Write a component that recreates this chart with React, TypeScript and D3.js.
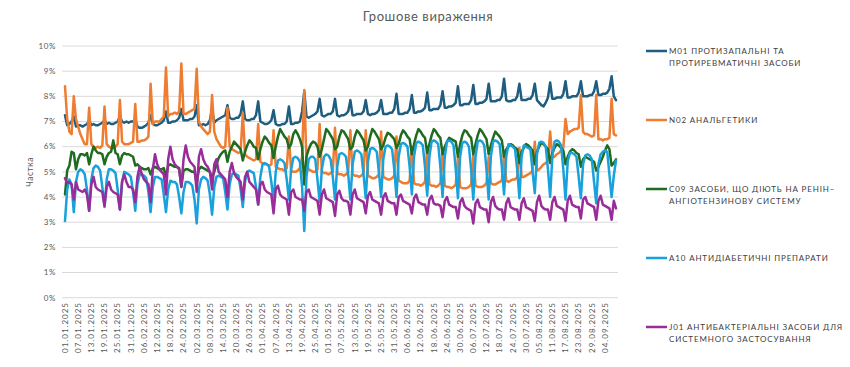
import React from 'react'
import * as d3 from 'd3'

// daily shares, %, 01.01.2025 - 09.09.2025 (weeks Mon..Sun)
const m01 = [
  7.25, 6.85, 6.9, 7.0, 7.2,
  6.8, 6.85, 6.85, 6.8, 6.85, 6.9, 7.05,
  6.85, 6.9, 6.85, 6.85, 6.9, 6.95, 7.05,
  6.9, 6.95, 6.9, 6.9, 6.95, 7.0, 7.2,
  7.0, 6.95, 7.0, 6.95, 7.0, 7.0, 7.1,
  6.8, 6.75, 6.75, 6.8, 6.85, 6.95, 7.25,
  6.9, 6.85, 6.85, 6.9, 6.95, 7.05, 7.4,
  6.95, 6.95, 7.0, 7.0, 7.05, 7.15, 7.5,
  7.05, 7.05, 7.05, 7.1, 7.1, 7.2, 7.65,
  6.85, 6.85, 6.9, 6.85, 6.9, 7.05, 7.5,
  6.95, 7.05, 7.1, 7.15, 7.2, 7.25, 7.65,
  7.15, 7.1, 7.1, 7.15, 7.15, 7.3, 7.8,
  7.1, 7.05, 7.05, 7.1, 7.1, 7.25, 7.8,
  7.0, 6.95, 6.9, 6.9, 6.95, 7.05, 7.45,
  6.9, 6.85, 6.85, 6.9, 6.9, 7.0, 7.6,
  6.9, 6.9, 6.95, 6.95, 7.0, 7.4, 8.2,
  7.2, 7.15, 7.2, 7.25, 7.3, 7.4, 7.9,
  7.25, 7.2, 7.25, 7.3, 7.3, 7.4, 7.9,
  7.25, 7.2, 7.25, 7.25, 7.3, 7.4, 7.85,
  7.25, 7.25, 7.3, 7.3, 7.3, 7.4, 7.85,
  7.3, 7.25, 7.3, 7.3, 7.35, 7.45, 7.85,
  7.3, 7.3, 7.3, 7.35, 7.35, 7.5, 8.1,
  7.3, 7.3, 7.3, 7.35, 7.35, 7.5, 8.05,
  7.35, 7.35, 7.4, 7.4, 7.45, 7.55, 8.15,
  7.45, 7.45, 7.5, 7.5, 7.5, 7.65, 8.2,
  7.55, 7.55, 7.6, 7.6, 7.65, 7.75, 8.4,
  7.65, 7.65, 7.7, 7.7, 7.7, 7.85, 8.45,
  7.7, 7.7, 7.75, 7.75, 7.8, 7.9, 8.5,
  7.8, 7.8, 7.8, 7.85, 7.85, 8.0, 8.7,
  7.85, 7.8, 7.8, 7.85, 7.85, 8.0, 8.5,
  7.85, 7.85, 7.85, 7.9, 7.9, 8.05, 8.5,
  7.85, 7.75, 7.65, 7.6, 7.75, 7.95, 8.55,
  7.9, 7.9, 7.95, 7.95, 7.95, 8.1, 8.6,
  7.95, 7.95, 8.0, 8.0, 8.0, 8.15, 8.6,
  8.0, 8.0, 8.0, 8.05, 8.05, 8.2, 8.6,
  8.05, 8.05, 8.1, 8.1, 8.15, 8.3, 8.8,
  8.0, 7.85,
]

const n02 = [
  8.4, 7.1, 6.6, 6.5, 8.0,
  7.1, 6.8, 6.5, 6.3, 6.1, 6.1, 7.55,
  6.1, 6.0, 5.95, 6.0, 5.95, 6.05, 7.6,
  6.1, 6.0, 5.95, 5.95, 6.0, 6.1, 7.85,
  6.2, 6.1, 6.1, 6.1, 6.15, 6.2, 7.7,
  6.2, 6.2, 6.25, 6.25, 6.3, 6.4, 8.5,
  6.9, 7.0, 7.0, 7.0, 7.1, 7.2, 9.15,
  7.2, 7.3, 7.3, 7.35, 7.3, 7.4, 9.3,
  7.3, 7.3, 7.35, 7.4, 7.45, 7.5, 9.1,
  7.0, 6.8, 6.7, 6.6, 6.5, 6.6, 8.05,
  6.6, 6.3, 6.15, 6.0, 5.95, 6.0, 7.55,
  6.0, 5.9, 5.85, 5.8, 5.75, 5.8, 7.35,
  5.7, 5.6, 5.55, 5.5, 5.45, 5.5, 6.9,
  5.4, 5.35, 5.3, 5.3, 5.25, 5.3, 6.65,
  5.2, 5.15, 5.1, 5.1, 5.05, 5.15, 6.4,
  5.05, 5.0, 5.0, 5.05, 5.15, 5.6, 8.25,
  5.4, 5.1, 5.05, 5.0, 5.0, 5.1, 6.9,
  5.0, 4.95, 4.95, 4.9, 4.95, 5.0, 6.75,
  4.95, 4.9, 4.9, 4.85, 4.9, 5.0, 6.65,
  4.9, 4.85, 4.85, 4.8, 4.85, 4.95, 6.65,
  4.85, 4.8, 4.75, 4.75, 4.8, 4.9, 6.6,
  4.8, 4.75, 4.7, 4.7, 4.75, 4.85, 6.4,
  4.65, 4.6, 4.55, 4.55, 4.55, 4.65, 6.0,
  4.55, 4.5, 4.5, 4.45, 4.5, 4.6, 6.0,
  4.5, 4.45, 4.45, 4.4, 4.45, 4.55, 5.95,
  4.45, 4.4, 4.4, 4.35, 4.4, 4.5, 5.6,
  4.4, 4.35, 4.35, 4.35, 4.4, 4.5, 5.7,
  4.45, 4.4, 4.4, 4.4, 4.45, 4.55, 5.6,
  4.55, 4.5, 4.5, 4.55, 4.6, 4.65, 5.75,
  4.65, 4.6, 4.65, 4.7, 4.7, 4.8, 5.95,
  4.8, 4.8, 4.85, 4.9, 4.95, 5.05, 6.2,
  5.05, 5.1, 5.2, 5.3, 5.35, 5.45, 6.6,
  5.55, 5.6, 5.7, 5.75, 5.85, 5.95, 7.1,
  6.5, 6.6, 6.65, 6.7, 6.7, 6.75, 8.05,
  6.6, 6.5, 6.5, 6.45, 6.4, 6.45, 8.05,
  6.3, 6.3, 6.25, 6.3, 6.3, 6.35, 7.9,
  6.5, 6.45,
]

const c09 = [
  4.1, 5.05, 5.25, 5.8, 5.75,
  5.1, 5.5, 5.7, 5.7, 5.65, 5.75, 5.3,
  5.7, 6.0, 5.85, 5.75, 5.75, 5.7, 5.3,
  5.6, 5.75, 5.8, 6.25, 5.75, 5.7, 5.3,
  5.65, 5.75, 5.7, 5.7, 5.65, 5.6, 5.25,
  5.3, 5.2, 5.15, 5.1, 5.1, 5.15, 4.9,
  5.15, 5.2, 5.15, 5.1, 5.1, 5.15, 4.8,
  5.25, 5.3, 5.25, 5.2, 5.2, 5.15, 4.4,
  5.05, 5.1, 5.1, 5.05, 5.0, 5.0, 4.55,
  5.1, 5.2, 5.15, 5.1, 5.05, 5.0, 4.75,
  5.0, 5.3, 5.55, 5.7, 5.8, 5.85, 5.4,
  5.8, 6.0, 6.2, 6.1, 6.0, 5.9, 5.45,
  5.8, 6.05, 6.25, 6.15, 6.0, 5.95, 5.5,
  5.9, 6.2, 6.4, 6.3, 6.15, 6.05, 5.55,
  6.0, 6.4, 6.7, 6.55, 6.4, 6.3, 5.95,
  6.1, 6.5, 6.65, 6.5, 6.3, 6.0, 4.5,
  5.6, 5.9, 6.1, 6.2, 6.15, 6.0, 5.6,
  5.9, 6.3, 6.7, 6.6, 6.45, 6.3, 5.9,
  6.0, 6.4, 6.65, 6.6, 6.45, 6.3, 5.9,
  6.0, 6.4, 6.65, 6.55, 6.4, 6.25, 5.85,
  6.0, 6.4, 6.7, 6.6, 6.45, 6.3, 5.9,
  6.05, 6.35, 6.55, 6.5, 6.4, 6.3, 5.95,
  6.1, 6.45, 6.65, 6.55, 6.4, 6.3, 5.7,
  6.1, 6.45, 6.7, 6.6, 6.45, 6.35, 5.75,
  6.1, 6.45, 6.7, 6.6, 6.45, 6.35, 5.7,
  6.0, 6.2, 6.35, 6.3, 6.25, 6.2, 5.6,
  6.1, 6.45, 6.65, 6.6, 6.45, 6.35, 5.7,
  6.1, 6.45, 6.7, 6.6, 6.45, 6.3, 5.7,
  6.05, 6.35, 6.6, 6.5, 6.4, 6.25, 5.6,
  5.9, 6.0, 6.1, 6.05, 5.95, 5.9, 5.35,
  5.8, 5.95, 6.1, 6.05, 5.95, 5.85, 5.3,
  5.8, 6.0, 6.15, 6.1, 6.0, 5.9, 5.35,
  5.75, 5.95, 6.1, 6.05, 5.95, 5.85, 5.3,
  5.6, 5.8, 5.9, 5.85, 5.75, 5.7, 5.2,
  5.5, 5.6, 5.55, 5.5, 5.45, 5.4, 5.05,
  5.2, 5.4, 5.6, 5.85, 6.05, 5.9, 5.25,
  5.35, 5.5,
]

const a10 = [
  3.05, 4.3, 4.7, 4.5, 3.4,
  4.6, 5.0, 5.1, 5.05, 4.9, 4.3, 3.45,
  4.7, 5.15, 5.25, 5.2, 5.05, 4.4, 3.6,
  4.7, 5.1, 5.1, 5.05, 4.95, 4.3, 3.5,
  4.6, 5.0, 4.95, 4.9, 4.8, 4.2, 3.45,
  4.5, 4.9, 4.9, 4.85, 4.75, 4.2, 3.4,
  4.4, 4.8, 4.8, 4.75, 4.7, 4.1, 3.4,
  4.3, 4.65, 4.6, 4.6, 4.5, 4.0, 3.35,
  4.2, 4.6, 4.6, 4.55, 4.45, 3.9, 2.95,
  4.3, 4.7, 4.8, 4.75, 4.65, 4.1, 3.3,
  4.4, 4.8, 4.85, 4.8, 4.75, 4.2, 3.5,
  4.5, 4.9, 4.95, 4.9, 4.85, 4.3, 3.6,
  4.6, 5.0, 5.05, 5.0, 4.95, 4.4, 3.7,
  4.8, 5.3, 5.35, 5.3, 5.2, 4.6, 3.8,
  5.0, 5.45, 5.5, 5.45, 5.35, 4.7, 3.9,
  5.1, 5.55, 5.6, 5.55, 5.4, 4.4, 2.65,
  4.8, 5.5, 5.6, 5.6, 5.5, 4.7, 3.8,
  5.1, 5.6, 5.7, 5.65, 5.5, 4.8, 3.9,
  5.2, 5.7, 5.75, 5.7, 5.6, 4.9, 3.9,
  5.3, 5.8, 5.85, 5.8, 5.7, 4.9, 3.95,
  5.4, 5.9, 5.95, 5.9, 5.8, 5.0, 4.0,
  5.5, 6.0, 6.05, 6.0, 5.9, 5.1, 4.0,
  5.6, 6.1, 6.15, 6.1, 6.0, 5.2, 4.1,
  5.6, 6.15, 6.2, 6.15, 6.05, 5.2, 4.05,
  5.6, 6.2, 6.25, 6.2, 6.1, 5.2, 4.0,
  5.6, 6.2, 6.25, 6.2, 6.05, 5.1, 3.95,
  5.6, 6.15, 6.2, 6.15, 6.0, 5.1, 3.9,
  5.6, 6.2, 6.25, 6.2, 6.05, 5.1, 3.9,
  5.6, 6.2, 6.25, 6.2, 6.1, 5.2, 4.1,
  5.6, 6.1, 6.05, 6.0, 5.9, 5.1, 3.95,
  5.6, 6.05, 6.0, 5.95, 5.9, 5.0, 4.15,
  5.7, 6.15, 6.2, 6.15, 6.0, 5.1, 4.0,
  5.6, 6.2, 6.25, 6.2, 6.05, 5.1, 3.9,
  5.4, 5.75, 5.75, 5.7, 5.6, 4.8, 3.95,
  5.3, 5.65, 5.7, 5.65, 5.5, 4.6, 3.75,
  5.3, 5.7, 5.8, 5.85, 5.8, 4.9, 4.0,
  4.85, 5.45,
]

const j01 = [
  4.75, 4.55, 4.6, 4.5, 3.9,
  4.6, 4.3, 4.25, 4.2, 4.3, 4.1, 3.45,
  4.5, 4.8, 4.4, 4.3, 4.25, 4.2, 3.65,
  4.4, 4.6, 4.3, 4.2, 4.15, 4.1, 3.5,
  4.6, 4.9, 4.6, 4.4, 4.4, 4.3, 3.8,
  4.8, 5.2, 4.9, 4.7, 4.6, 4.5, 3.8,
  5.1, 5.7, 5.3, 5.1, 5.0, 4.9, 4.1,
  5.5, 6.0, 5.5, 5.3, 5.2, 5.1, 4.4,
  5.5, 6.05, 5.6, 5.4, 5.3, 5.2, 4.2,
  5.6, 5.9, 5.5, 5.3, 5.2, 5.0, 4.3,
  5.3, 5.5, 5.0, 4.9, 4.8, 4.7, 4.0,
  5.0, 5.35, 4.95, 4.8, 4.7, 4.6, 3.9,
  4.8, 5.0, 4.6, 4.5, 4.4, 4.3, 3.7,
  4.5, 4.6, 4.3, 4.2, 4.15, 4.1, 3.35,
  4.3, 4.45, 4.1, 4.0, 3.95, 3.9, 3.3,
  4.2, 4.3, 4.0, 3.95, 3.9, 3.9, 3.45,
  4.2, 4.3, 4.0, 3.95, 3.9, 3.85, 3.3,
  4.1, 4.3, 3.95, 3.9, 3.85, 3.8, 3.25,
  4.1, 4.25, 3.95, 3.85, 3.85, 3.8, 3.3,
  4.1, 4.3, 3.95, 3.9, 3.85, 3.8, 3.35,
  4.05, 4.2, 3.9, 3.85, 3.8, 3.75, 3.3,
  4.0, 4.15, 3.85, 3.8, 3.75, 3.75, 3.3,
  4.0, 4.1, 3.85, 3.8, 3.75, 3.7, 3.35,
  3.95, 4.1, 3.8, 3.75, 3.7, 3.7, 3.3,
  3.9, 4.05, 3.75, 3.7, 3.7, 3.65, 3.2,
  3.85, 4.0, 3.7, 3.65, 3.6, 3.6, 3.15,
  3.8, 3.95, 3.65, 3.55, 3.5, 3.45, 2.95,
  3.75, 3.9, 3.6, 3.55, 3.5, 3.5, 3.0,
  3.8, 4.0, 3.65, 3.55, 3.5, 3.5, 3.1,
  3.75, 3.95, 3.6, 3.55, 3.5, 3.5, 3.1,
  3.75, 3.95, 3.6, 3.55, 3.5, 3.45, 3.05,
  3.8, 4.05, 3.65, 3.55, 3.5, 3.5, 3.1,
  3.8, 4.0, 3.65, 3.6, 3.55, 3.5, 3.05,
  3.85, 4.05, 3.7, 3.65, 3.6, 3.6, 3.15,
  3.9, 4.0, 3.75, 3.7, 3.65, 3.6, 3.1,
  3.85, 4.05, 3.7, 3.65, 3.6, 3.55, 3.1,
  3.85, 3.55,
]

const dates = d3.timeDays(new Date(2025, 0, 1), new Date(2025, 8, 10))
const yTicks = [0, 1, 2, 3, 4, 5, 6, 7, 8, 9, 10]
const tickEvery = 6

const series = [
  { name: ['M01 ПРОТИЗАПАЛЬНІ ТА', 'ПРОТИРЕВМАТИЧНІ ЗАСОБИ'], values: m01, color: '#1d5d80', ly: 51 },
  { name: ['N02 АНАЛЬГЕТИКИ'], values: n02, color: '#ee7d31', ly: 120 },
  { name: ['C09 ЗАСОБИ, ЩО ДІЮТЬ НА РЕНІН–', 'АНГІОТЕНЗИНОВУ СИСТЕМУ'], values: c09, color: '#1f6b1f', ly: 189 },
  { name: ['A10 АНТИДІАБЕТИЧНІ ПРЕПАРАТИ'], values: a10, color: '#18a1db', ly: 258 },
  { name: ['J01 АНТИБАКТЕРІАЛЬНІ ЗАСОБИ ДЛЯ', 'СИСТЕМНОГО ЗАСТОСУВАННЯ'], values: j01, color: '#982c98', ly: 327 },
]

const W = 850
const H = 367
const font = 'Lato, "Open Sans", sans-serif'

export default function App() {
  const x = d3.scaleLinear().domain([0, dates.length - 1]).range([65, 616])
  const y = d3.scaleLinear().domain([0, 10]).range([297.7, 46])
  const fmt = d3.timeFormat('%d.%m.%Y')
  const line = d3.line<number>().x((_, i) => x(i)).y(d => y(d))

  return (
    <svg width={W} height={H} style={{ position: 'absolute', left: 0, top: 0, background: '#fff' }} fontFamily={font}>
      <text x={428} y={21} textAnchor="middle" fontSize={13} fill="#595959" letterSpacing={0.6}>
        Грошове  вираження
      </text>

      {yTicks.map(t => (
        <g key={t}>
          <line x1={62} x2={618} y1={y(t)} y2={y(t)} stroke="#d9d9d9" strokeWidth={1} />
          <text x={56} y={y(t)} dy="0.35em" textAnchor="end" fontSize={8} fill="#595959" letterSpacing={0.6}>
            {t}%
          </text>
        </g>
      ))}

      <text transform={`translate(33,172) rotate(-90)`} textAnchor="middle" fontSize={8.5} fill="#595959" letterSpacing={0.5}>
        Частка
      </text>

      {dates.map((d, i) => i % tickEvery === 0 ? (
        <text key={i} transform={`translate(${x(i)},302) rotate(-90)`} dy="0.35em" textAnchor="end"
          fontSize={8} fill="#595959" letterSpacing={1}>
          {fmt(d)}
        </text>
      ) : null)}

      {series.map(s => (
        <path key={s.color} d={line(s.values) ?? ''} fill="none" stroke={s.color} strokeWidth={2.5}
          strokeLinejoin="round" strokeLinecap="round" />
      ))}

      {series.map(s => (
        <g key={'l' + s.color}>
          <line x1={646} x2={667} y1={s.ly} y2={s.ly} stroke={s.color} strokeWidth={2.5} />
          {s.name.map((t, k) => (
            <text key={k} x={669} y={s.ly + k * 12.5} dy="0.35em" fontSize={8} fill="#404040" letterSpacing={0.85}>
              {t}
            </text>
          ))}
        </g>
      ))}
    </svg>
  )
}
